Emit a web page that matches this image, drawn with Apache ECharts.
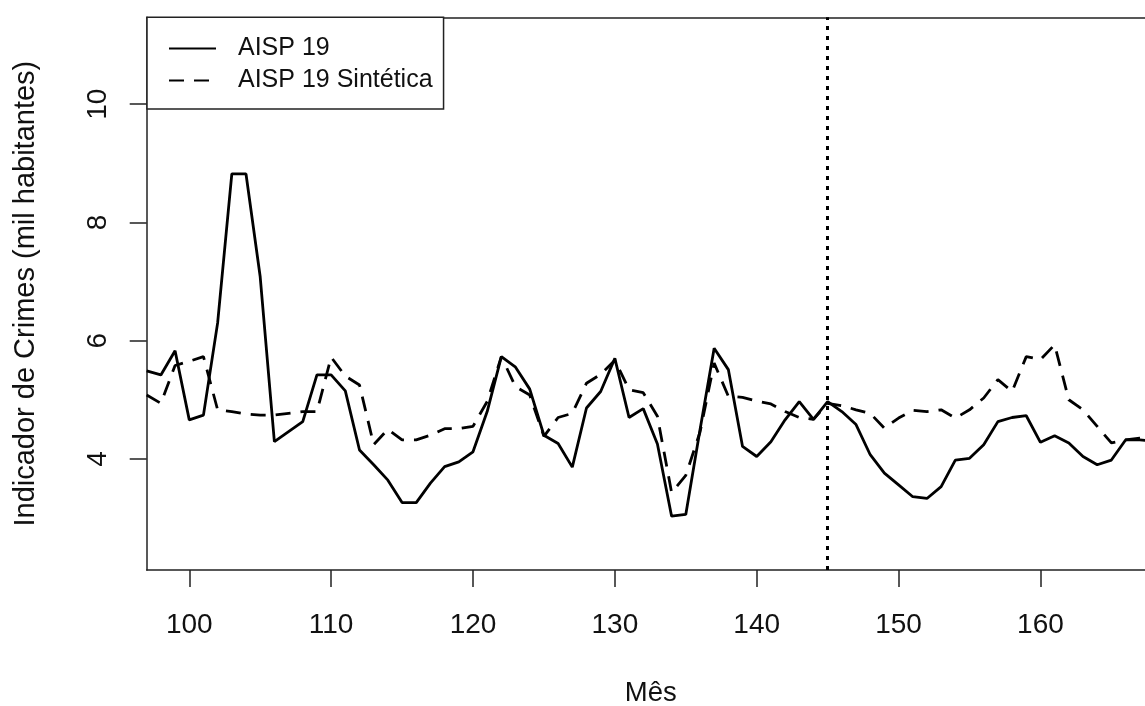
<!DOCTYPE html>
<html><head><meta charset="utf-8">
<script src="https://cdn.jsdelivr.net/npm/echarts@6/dist/echarts.min.js"></script>
<style>html,body{margin:0;padding:0;background:#fff;overflow:hidden}#c{width:1145px;height:706px}</style>
</head><body><div id="c"></div>
<script>
const months = [97,98,99,100,101,102,103,104,105,106,107,108,109,110,111,112,113,114,115,116,117,118,119,120,121,122,123,124,125,126,127,128,129,130,131,132,133,134,135,136,137,138,139,140,141,142,143,144,145,146,147,148,149,150,151,152,153,154,155,156,157,158,159,160,161,162,163,164,165,166,167,168];
const aisp19 = [5.49,5.42,5.83,4.66,4.74,6.30,8.82,8.82,7.08,4.29,4.46,4.63,5.42,5.42,5.15,4.15,3.90,3.64,3.26,3.26,3.59,3.87,3.95,4.12,4.80,5.73,5.55,5.18,4.40,4.26,3.86,4.86,5.14,5.70,4.70,4.85,4.25,3.03,3.06,4.49,5.87,5.51,4.21,4.04,4.29,4.66,4.97,4.67,4.97,4.80,4.58,4.07,3.76,3.56,3.36,3.33,3.53,3.98,4.01,4.24,4.63,4.70,4.73,4.28,4.39,4.27,4.04,3.90,3.98,4.32,4.32,4.30];
const aisp19Sintetica = [5.08,4.94,5.58,5.65,5.73,4.83,4.80,4.76,4.74,4.74,4.77,4.80,4.80,5.72,5.40,5.25,4.24,4.50,4.32,4.32,4.40,4.51,4.51,4.55,4.97,5.73,5.22,5.08,4.38,4.70,4.77,5.28,5.43,5.67,5.17,5.12,4.72,3.43,3.72,4.45,5.62,5.06,5.04,4.98,4.93,4.80,4.70,4.67,4.94,4.90,4.83,4.77,4.52,4.69,4.82,4.80,4.83,4.69,4.83,5.03,5.34,5.14,5.73,5.68,5.93,5.00,4.83,4.55,4.27,4.32,4.35,4.35];
const xTicks = [100,110,120,130,140,150,160];
const yTicks = [4,6,8,10];
const interventionMonth = 145;
const seriesNames = ['AISP 19','AISP 19 Sintética'];

const FF = '"Liberation Sans", Arial, sans-serif';
const AX = '#222';
const chart = echarts.init(document.getElementById('c'), null, {renderer:'canvas'});
const xBase = {type: 'value', min: 97, max: 167.37, splitLine: {show: false}};
chart.setOption({
  animation: false,
  backgroundColor: '#fff',
  grid: {left: 146.7, top: 17.3, bottom: 136, right: 0, show: false, containLabel: false, outerBoundsMode: 'none'},
  legend: {
    left: 147, top: 17.3, orient: 'vertical',
    itemWidth: 47, itemHeight: 14, itemGap: 7,
    padding: [18.7, 11, 16, 21],
    borderColor: AX, borderWidth: 1.5, backgroundColor: '#fff', borderRadius: 0,
    itemStyle: {color: 'rgba(0,0,0,0)', borderWidth: 0, opacity: 0},
    textStyle: {fontSize: 25, lineHeight: 24, color: '#111', fontFamily: FF, padding: [0,0,0,17]},
    data: seriesNames
  },
  xAxis: [
    Object.assign({}, xBase, {
      position: 'bottom',
      name: 'Mês', nameLocation: 'middle', nameGap: 109.5,
      nameTextStyle: {fontSize: 27.5, color: '#111', fontFamily: FF, padding: [0,0,0,10]},
      axisLine: {show: true, lineStyle: {color: AX, width: 1.5}},
      axisTick: {show: true, length: 17, lineStyle: {color: AX, width: 1.5}, customValues: xTicks},
      axisLabel: {fontSize: 28, color: '#111', fontFamily: FF, margin: 41, customValues: xTicks}
    }),
    Object.assign({}, xBase, {
      position: 'top',
      axisLine: {show: true, lineStyle: {color: AX, width: 1.5}},
      axisTick: {show: false},
      axisLabel: {show: false}
    })
  ],
  yAxis: {
    type: 'value', min: 2.12, max: 11.47,
    name: 'Indicador de Crimes (mil habitantes)', nameLocation: 'middle', nameGap: 106,
    nameTextStyle: {fontSize: 29, color: '#111', fontFamily: FF},
    axisLine: {show: true, lineStyle: {color: AX, width: 1.5}},
    splitLine: {show: false},
    axisTick: {show: true, length: 17, lineStyle: {color: AX, width: 1.5}, customValues: yTicks},
    axisLabel: {fontSize: 28, color: '#111', fontFamily: FF, margin: 34, rotate: 90, customValues: yTicks}
  },
  series: [
    {
      name: seriesNames[0], type: 'line', symbol: 'none', clip: true,
      lineStyle: {color: '#000', width: 2.8, type: 'solid'},
      itemStyle: {color: '#000'},
      data: months.map((m, i) => [m, aisp19[i]]),
      markLine: {
        silent: true, symbol: ['none','none'], label: {show: false},
        lineStyle: {color: '#000', width: 3, type: [4, 6]},
        data: [{xAxis: interventionMonth}]
      }
    },
    {
      name: seriesNames[1], type: 'line', symbol: 'none', clip: true,
      lineStyle: {color: '#000', width: 2.8, type: [15, 10]},
      itemStyle: {color: '#000'},
      data: months.map((m, i) => [m, aisp19Sintetica[i]])
    }
  ]
});
</script>
</body></html>
